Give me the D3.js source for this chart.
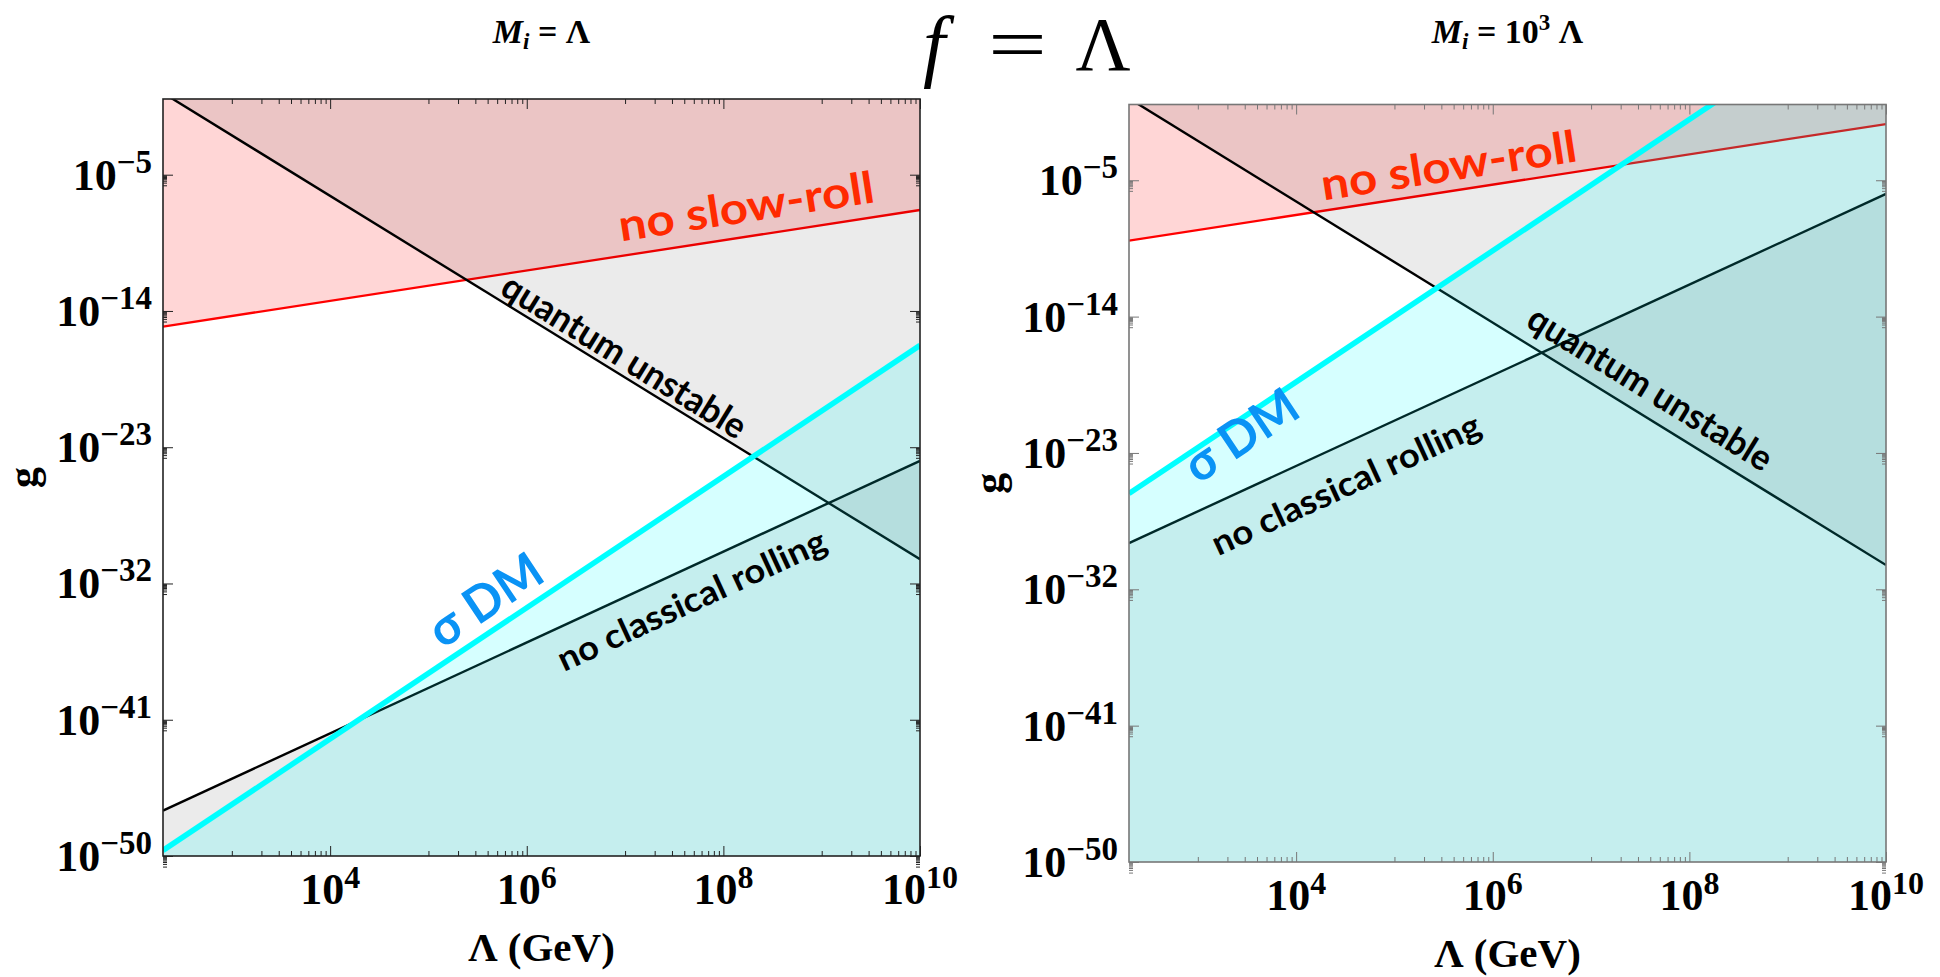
<!DOCTYPE html>
<html>
<head>
<meta charset="utf-8">
<script src="https://cdn.jsdelivr.net/npm/d3@7"></script>
<style>
  body { margin: 0; background: #fff; }
  svg text { font-family: "Liberation Serif", "Times New Roman", serif; }
  .comic { font-family: "Comic Sans MS", "Lato", sans-serif; font-weight: bold; }
</style>
</head>
<body>
<svg id="chart" width="1940" height="977"></svg>
<script>
// log10(Lambda / GeV) at the left and right plot edges
var lambdaEdges = [2.3, 10];
var gRange = [1e-50, 1];

// log10 g of each boundary at the two edges, panel A (M_i = Lambda)
var slowRollA = [-15.03, -7.33];
var quantumA = [0.4, -30.4];
var sigmaDMA = [-49.63, -16.27];
var rollingA = [-47.0, -23.9];

// panel B (M_i = 10^3 Lambda)
var slowRollB = [-8.99, -1.29];
var quantumB = [0.4, -30.4];
var sigmaDMB = [-25.68, 7.68];
var rollingB = [-28.95, -5.9];

var xTickExp = [4, 6, 8, 10];
var yTickExp = [-50, -41, -32, -23, -14, -5];
var xMinorDecades = [3, 5, 7, 9];

var labelNames = ["no slow-roll", "quantum unstable", "σ DM", "no classical rolling"];
// label centres, [log10 Lambda, log10 g]
var labelPosA = [[8.23, -7.0], [7.0, -16.9], [5.57, -33.0], [7.67, -33.0]];
var labelPosB = [[5.55, -3.93], [7.61, -18.65], [3.43, -21.75], [4.50, -24.98]];

var labelColors = ["#ff2a00", "#000", "#0a93f5", "#000"];
var labelSizes = [44, 36, 50, 34];
var labelLengths = [258, 280, 126, 292];

var svg = d3.select("#chart");

function drawPanel(cfg) {
    var g = svg.append("g");
    var x = d3.scaleLog()
        .domain(lambdaEdges.map(function (e) { return Math.pow(10, e); }))
        .range([cfg.x0, cfg.x1]);
    var y = d3.scaleLog().domain(gRange).range([cfg.y1, cfg.y0]);

    var clipId = "clip" + cfg.id;
    svg.append("clipPath").attr("id", clipId).append("rect")
        .attr("x", cfg.x0).attr("y", cfg.y0)
        .attr("width", cfg.x1 - cfg.x0).attr("height", cfg.y1 - cfg.y0);
    var plot = g.append("g").attr("clip-path", "url(#" + clipId + ")");

    function pts(v) {
        return lambdaEdges.map(function (e, i) { return [Math.pow(10, e), Math.pow(10, v[i])]; });
    }
    function region(v, side) {
        var p = pts(v);
        var far = side === "above" ? 1e30 : 1e-90;
        return p.concat([[p[1][0], far], [p[0][0], far]]);
    }
    var line = d3.line().x(function (d) { return x(d[0]); }).y(function (d) { return y(d[1]); });

    function layer(v, side, fill, op, stroke, sw) {
        plot.append("path").attr("d", line(region(v, side)) + "Z")
            .attr("fill", fill).attr("fill-opacity", op);
        plot.append("path").attr("d", line(pts(v)))
            .attr("fill", "none").attr("stroke", stroke).attr("stroke-width", sw);
    }
    layer(cfg.slowRoll, "above", "#ff0000", 0.16, "#ff0000", 2.3);
    layer(cfg.quantum, "above", "#000", 0.08, "#000", 2.4);
    layer(cfg.rolling, "below", "#000", 0.08, "#000", 2.4);
    layer(cfg.sigma, "below", "#00ffff", 0.16, "#00ffff", 5.5);

    // labels along the boundaries
    var series = [cfg.slowRoll, cfg.quantum, cfg.sigma, cfg.rolling];
    labelNames.forEach(function (name, i) {
        var p = pts(series[i]);
        var ang = Math.atan2(y(p[1][1]) - y(p[0][1]), x(p[1][0]) - x(p[0][0])) * 180 / Math.PI;
        var cx = x(Math.pow(10, cfg.labels[i][0])), cy = y(Math.pow(10, cfg.labels[i][1]));
        g.append("text").attr("class", "comic")
            .attr("transform", "translate(" + cx + "," + cy + ") rotate(" + ang + ")")
            .attr("text-anchor", "middle").attr("dominant-baseline", "central")
            .attr("font-size", labelSizes[i]).attr("fill", labelColors[i])
            .attr("textLength", labelLengths[i]).attr("lengthAdjust", "spacingAndGlyphs")
            .text(name);
    });

    // frame
    g.append("rect").attr("x", cfg.x0).attr("y", cfg.y0)
        .attr("width", cfg.x1 - cfg.x0).attr("height", cfg.y1 - cfg.y0)
        .attr("fill", "none").attr("stroke", cfg.frame).attr("stroke-width", 1.6);

    var xMajor = xTickExp.map(function (e) { return Math.pow(10, e); });
    var xMinor = [];
    xMinorDecades.forEach(function (k) {
        for (var m = 1; m <= 9; m++) xMinor.push(m * Math.pow(10, k));
    });
    var yMajor = yTickExp.map(function (e) { return Math.pow(10, e); });
    var yMinor = [];
    yTickExp.forEach(function (e) {
        for (var m = 2; m <= 9; m++) yMinor.push(m * Math.pow(10, e - 1));
    });

    function ticks(gen, scale, values, size, tr) {
        g.append("g").attr("transform", tr)
            .call(gen(scale).tickValues(values).tickSize(size).tickFormat(""))
            .call(function (s) { s.select(".domain").remove(); })
            .selectAll("line").attr("stroke", cfg.frame);
    }
    ticks(d3.axisBottom, x, xMajor, -10, "translate(0," + cfg.y1 + ")");
    ticks(d3.axisBottom, x, xMinor, -5, "translate(0," + cfg.y1 + ")");
    ticks(d3.axisTop, x, xMajor, -10, "translate(0," + cfg.y0 + ")");
    ticks(d3.axisTop, x, xMinor, -5, "translate(0," + cfg.y0 + ")");
    ticks(d3.axisLeft, y, yMajor, -10, "translate(" + cfg.x0 + ",0)");
    ticks(d3.axisLeft, y, yMinor, -4, "translate(" + cfg.x0 + ",0)");
    ticks(d3.axisRight, y, yMajor, -10, "translate(" + cfg.x1 + ",0)");
    ticks(d3.axisRight, y, yMinor, -4, "translate(" + cfg.x1 + ",0)");

    // tick labels
    g.selectAll(".xlab").data(xTickExp).join("text")
        .attr("x", function (d) { return x(Math.pow(10, d)); })
        .attr("y", cfg.y1 + 48)
        .attr("text-anchor", "middle").attr("font-weight", "bold").attr("font-size", 44)
        .each(function (d) {
            var t = d3.select(this);
            t.append("tspan").text("10");
            t.append("tspan").attr("font-size", 32).attr("dy", -16).text(d);
        });
    g.selectAll(".ylab").data(yTickExp).join("text")
        .attr("x", cfg.x0 - 11)
        .attr("y", function (d) { return y(Math.pow(10, d)) + 15; })
        .attr("text-anchor", "end").attr("font-weight", "bold").attr("font-size", 44)
        .each(function (d) {
            var t = d3.select(this);
            t.append("tspan").text("10");
            t.append("tspan").attr("font-size", 33).attr("dy", -17).text("\u2212" + Math.abs(d));
        });

    // axis titles
    g.append("text").attr("x", (cfg.x0 + cfg.x1) / 2).attr("y", cfg.y1 + 105)
        .attr("text-anchor", "middle").attr("font-weight", "bold").attr("font-size", 41)
        .text("Λ (GeV)");
    g.append("text")
        .attr("transform", "translate(" + (cfg.x0 - 126) + "," + ((cfg.y0 + cfg.y1) / 2) + ") rotate(-90)")
        .attr("text-anchor", "middle").attr("font-weight", "bold").attr("font-size", 42)
        .text("g");

    // panel title
    var tt = g.append("text").attr("x", (cfg.x0 + cfg.x1) / 2).attr("y", 43)
        .attr("text-anchor", "middle").attr("font-weight", "bold").attr("font-size", 34);
    tt.append("tspan").attr("font-style", "italic").text("M");
    tt.append("tspan").attr("font-style", "italic").attr("font-size", 23).attr("dy", 6).text("i");
    if (cfg.mass) {
        tt.append("tspan").attr("dy", -6).text(" = 10");
        tt.append("tspan").attr("font-size", 23).attr("dy", -13).text(cfg.mass);
        tt.append("tspan").attr("dy", 13).text(" Λ");
    } else {
        tt.append("tspan").attr("dy", -6).text(" = Λ");
    }
}

drawPanel({ id: "A", x0: 163, x1: 920, y0: 99, y1: 856, frame: "#222",
    slowRoll: slowRollA, quantum: quantumA, sigma: sigmaDMA, rolling: rollingA,
    labels: labelPosA, mass: null });
drawPanel({ id: "B", x0: 1129, x1: 1886, y0: 104.5, y1: 862, frame: "#777",
    slowRoll: slowRollB, quantum: quantumB, sigma: sigmaDMB, rolling: rollingB,
    labels: labelPosB, mass: "3" });

// main title  f = Λ
var big = svg.append("g");
big.append("text").attr("x", 934).attr("y", 72).attr("text-anchor", "middle")
    .attr("font-size", 80).attr("font-style", "italic").text("f");
big.append("text").attr("x", 988).attr("y", 70).attr("font-size", 76)
    .attr("textLength", 59).attr("lengthAdjust", "spacingAndGlyphs").text("=");
big.append("text").attr("x", 1103).attr("y", 70).attr("text-anchor", "middle")
    .attr("font-size", 76).text("Λ");
</script>
</body>
</html>
